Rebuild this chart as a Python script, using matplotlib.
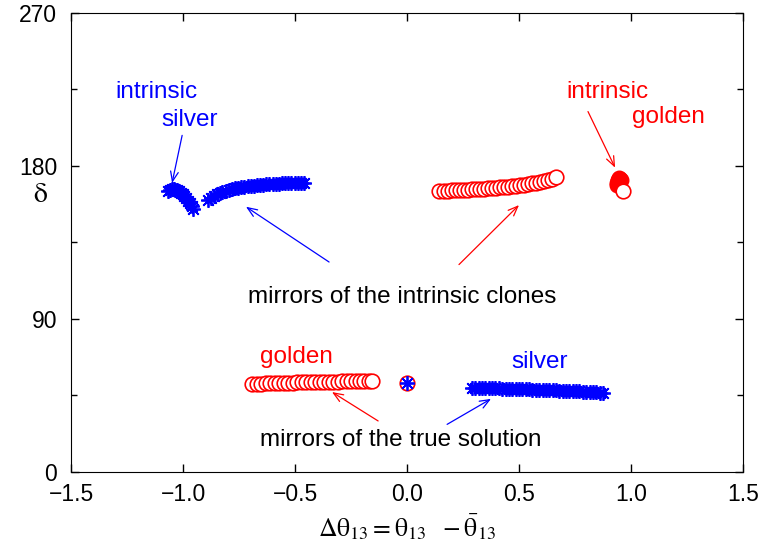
import matplotlib.pyplot as plt
from matplotlib.ticker import MultipleLocator

plt.rcParams['font.family'] = ['Liberation Sans', 'DejaVu Sans']
plt.rcParams['mathtext.fontset'] = 'stix'

RED = '#ff0000'
BLUE = '#0000ff'

# mirrors of the true solution (golden, red circles)
gold_true_x = [-0.69, -0.67, -0.65, -0.63, -0.61, -0.59, -0.57, -0.55, -0.53, -0.51,
               -0.49, -0.47, -0.45, -0.43, -0.41, -0.39, -0.37, -0.35, -0.33, -0.31,
               -0.29, -0.27, -0.25, -0.23, -0.21, -0.19, -0.17, -0.155]
gold_true_y = [51.8, 51.9, 52.0, 52.1, 52.2, 52.3, 52.4, 52.5, 52.6, 52.6,
               52.7, 52.8, 52.8, 52.9, 53.0, 53.0, 53.1, 53.1, 53.2, 53.2,
               53.3, 53.3, 53.4, 53.4, 53.4, 53.5, 53.5, 53.5]

# mirrors of the true solution (silver, blue asterisks)
silv_true_x = [0.29, 0.305, 0.32, 0.335, 0.35, 0.365, 0.38, 0.395, 0.41, 0.425,
               0.44, 0.455, 0.47, 0.485, 0.50, 0.515, 0.53, 0.545, 0.56, 0.575,
               0.59, 0.605, 0.62, 0.635, 0.65, 0.665, 0.68, 0.695, 0.71, 0.725,
               0.74, 0.755, 0.77, 0.785, 0.80, 0.815, 0.83, 0.845, 0.86, 0.875]
silv_true_y = [49.5, 49.5, 49.4, 49.4, 49.3, 49.3, 49.2, 49.1, 49.1, 49.0,
               49.0, 48.9, 48.9, 48.8, 48.8, 48.7, 48.6, 48.6, 48.5, 48.4,
               48.4, 48.3, 48.2, 48.2, 48.1, 48.0, 47.9, 47.9, 47.8, 47.7,
               47.6, 47.5, 47.4, 47.3, 47.2, 47.1, 47.0, 46.8, 46.7, 46.5]

# true solution at the origin
true_x = [0.0]
true_y = [52.5]

# mirrors of the intrinsic clones (silver, blue asterisks)
silv_mir_x = [-0.887, -0.875, -0.862, -0.85, -0.837, -0.824, -0.81, -0.796, -0.782, -0.768,
              -0.754, -0.74, -0.726, -0.712, -0.698, -0.684, -0.67, -0.656, -0.642, -0.628,
              -0.614, -0.6, -0.586, -0.572, -0.558, -0.544, -0.53, -0.516, -0.502, -0.488,
              -0.474, -0.46]
silv_mir_y = [160.0, 161.3, 162.4, 163.3, 164.1, 164.8, 165.4, 165.9, 166.4, 166.8,
              167.2, 167.5, 167.8, 168.1, 168.3, 168.5, 168.7, 168.9, 169.0, 169.2,
              169.3, 169.4, 169.5, 169.6, 169.7, 169.8, 169.8, 169.9, 170.0, 170.0,
              170.1, 170.1]

# mirrors of the intrinsic clones (golden, red circles)
gold_mir_x = [0.145, 0.163, 0.181, 0.199, 0.217, 0.235, 0.253, 0.271, 0.289, 0.307,
              0.325, 0.343, 0.361, 0.379, 0.397, 0.415, 0.433, 0.451, 0.469, 0.487,
              0.505, 0.523, 0.541, 0.559, 0.577, 0.595, 0.613, 0.631, 0.649, 0.665]
gold_mir_y = [165.3, 165.4, 165.5, 165.6, 165.7, 165.8, 165.9, 166.0, 166.2, 166.3,
              166.5, 166.6, 166.8, 167.0, 167.2, 167.4, 167.6, 167.9, 168.1, 168.4,
              168.7, 169.0, 169.4, 169.8, 170.2, 170.7, 171.2, 171.8, 172.5, 173.3]

# intrinsic silver (blue asterisks)
silv_int_x = [-1.066, -1.058, -1.05, -1.042, -1.034, -1.026, -1.018, -1.01, -1.002, -0.994,
              -0.986, -0.978, -0.97, -0.962, -0.955]
silv_int_y = [165.5, 166.0, 166.2, 166.2, 166.0, 165.6, 165.0, 164.2, 163.3, 162.2,
              161.0, 159.6, 158.1, 156.5, 154.8]

# intrinsic golden (red filled circles, last one open)
gold_int_x = [0.936, 0.938, 0.94, 0.942, 0.945, 0.948, 0.951, 0.954]
gold_int_y = [169.0, 170.2, 171.2, 172.0, 172.6, 172.9, 172.6, 171.6]
gold_int_end_x = [0.966]
gold_int_end_y = [165.3]

fig = plt.figure(figsize=(7.64, 5.52), dpi=100)
ax = fig.add_axes([0.093, 0.145, 0.8795, 0.8315])

circ = dict(marker='o', ms=10.5, mfc='white', mec=RED, mew=1.2, ls='none')
ast = dict(marker=(8, 2, 0), ms=10.5, color=BLUE, mew=1.3, ls='none')

ax.plot(gold_true_x, gold_true_y, **circ)
ax.plot(gold_mir_x, gold_mir_y, **circ)
ax.plot(silv_true_x, silv_true_y, **ast)
ax.plot(silv_mir_x, silv_mir_y, **ast)
ax.plot(silv_int_x, silv_int_y, **ast)
ax.plot(gold_int_x, gold_int_y, marker='o', ms=10.5, mfc=RED, mec=RED, ls='none')
ax.plot(gold_int_end_x, gold_int_end_y, **circ)
ax.plot(true_x, true_y, **circ)
ax.plot(true_x, true_y, **ast)

ax.set_xlim(-1.5, 1.5)
ax.set_ylim(0, 270)
ax.set_xticks([-1.5, -1.0, -0.5, 0.0, 0.5, 1.0, 1.5])
ax.set_xticklabels(['\u22121.5', '\u22121.0', '\u22120.5', '0.0', '0.5', '1.0', '1.5'])
ax.set_yticks([0, 90, 180, 270])
ax.yaxis.set_minor_locator(MultipleLocator(45))
ax.tick_params(which='both', direction='in', top=True, right=True, labelsize=16.5)
ax.tick_params(axis='x', pad=8)
ax.tick_params(axis='y', pad=10)
ax.tick_params(which='major', length=6, width=1)
ax.tick_params(which='minor', length=4, width=1)

ax.set_xlabel(r'$\mathrm{\Delta\theta_{13} = \theta_{13}\ \ -\bar{\theta}_{13}}$', fontsize=18.5, labelpad=4)
ax.set_ylabel(r'$\mathrm{\delta}$', fontsize=20, rotation=0, ha='center', va='center')
ax.yaxis.set_label_coords(-0.046, 0.603)

fs = 17.5
ax.text(-1.12, 223.5, 'intrinsic', color=BLUE, fontsize=fs, ha='center', va='center')
ax.text(-0.97, 207, 'silver', color=BLUE, fontsize=fs, ha='center', va='center')
ax.text(0.893, 223.5, 'intrinsic', color=RED, fontsize=fs, ha='center', va='center')
ax.text(1.165, 209, 'golden', color=RED, fontsize=fs, ha='center', va='center')
ax.text(-0.02, 103, 'mirrors of the intrinsic clones', color='black', fontsize=fs, ha='center', va='center')
ax.text(-0.495, 67.6, 'golden', color=RED, fontsize=fs, ha='center', va='center')
ax.text(0.594, 64.7, 'silver', color=BLUE, fontsize=fs, ha='center', va='center')
ax.text(-0.03, 18.8, 'mirrors of the true solution', color='black', fontsize=fs, ha='center', va='center')

arrows = [
    ((-1.004, 198), (-1.049, 170), BLUE),
    ((-0.348, 123.5), (-0.719, 156), BLUE),
    ((0.232, 122), (0.5, 157), RED),
    ((0.808, 212), (0.929, 179), RED),
    ((-0.129, 30), (-0.335, 47), RED),
    ((0.179, 28), (0.375, 43), BLUE),
]
for (x0, y0), (x1, y1), c in arrows:
    ax.annotate('', xy=(x1, y1), xytext=(x0, y0),
                arrowprops=dict(arrowstyle='->,head_length=0.5,head_width=0.2',
                                color=c, lw=0.9, shrinkA=0, shrinkB=0, mutation_scale=14))

fig.savefig('out.png', dpi=100)
